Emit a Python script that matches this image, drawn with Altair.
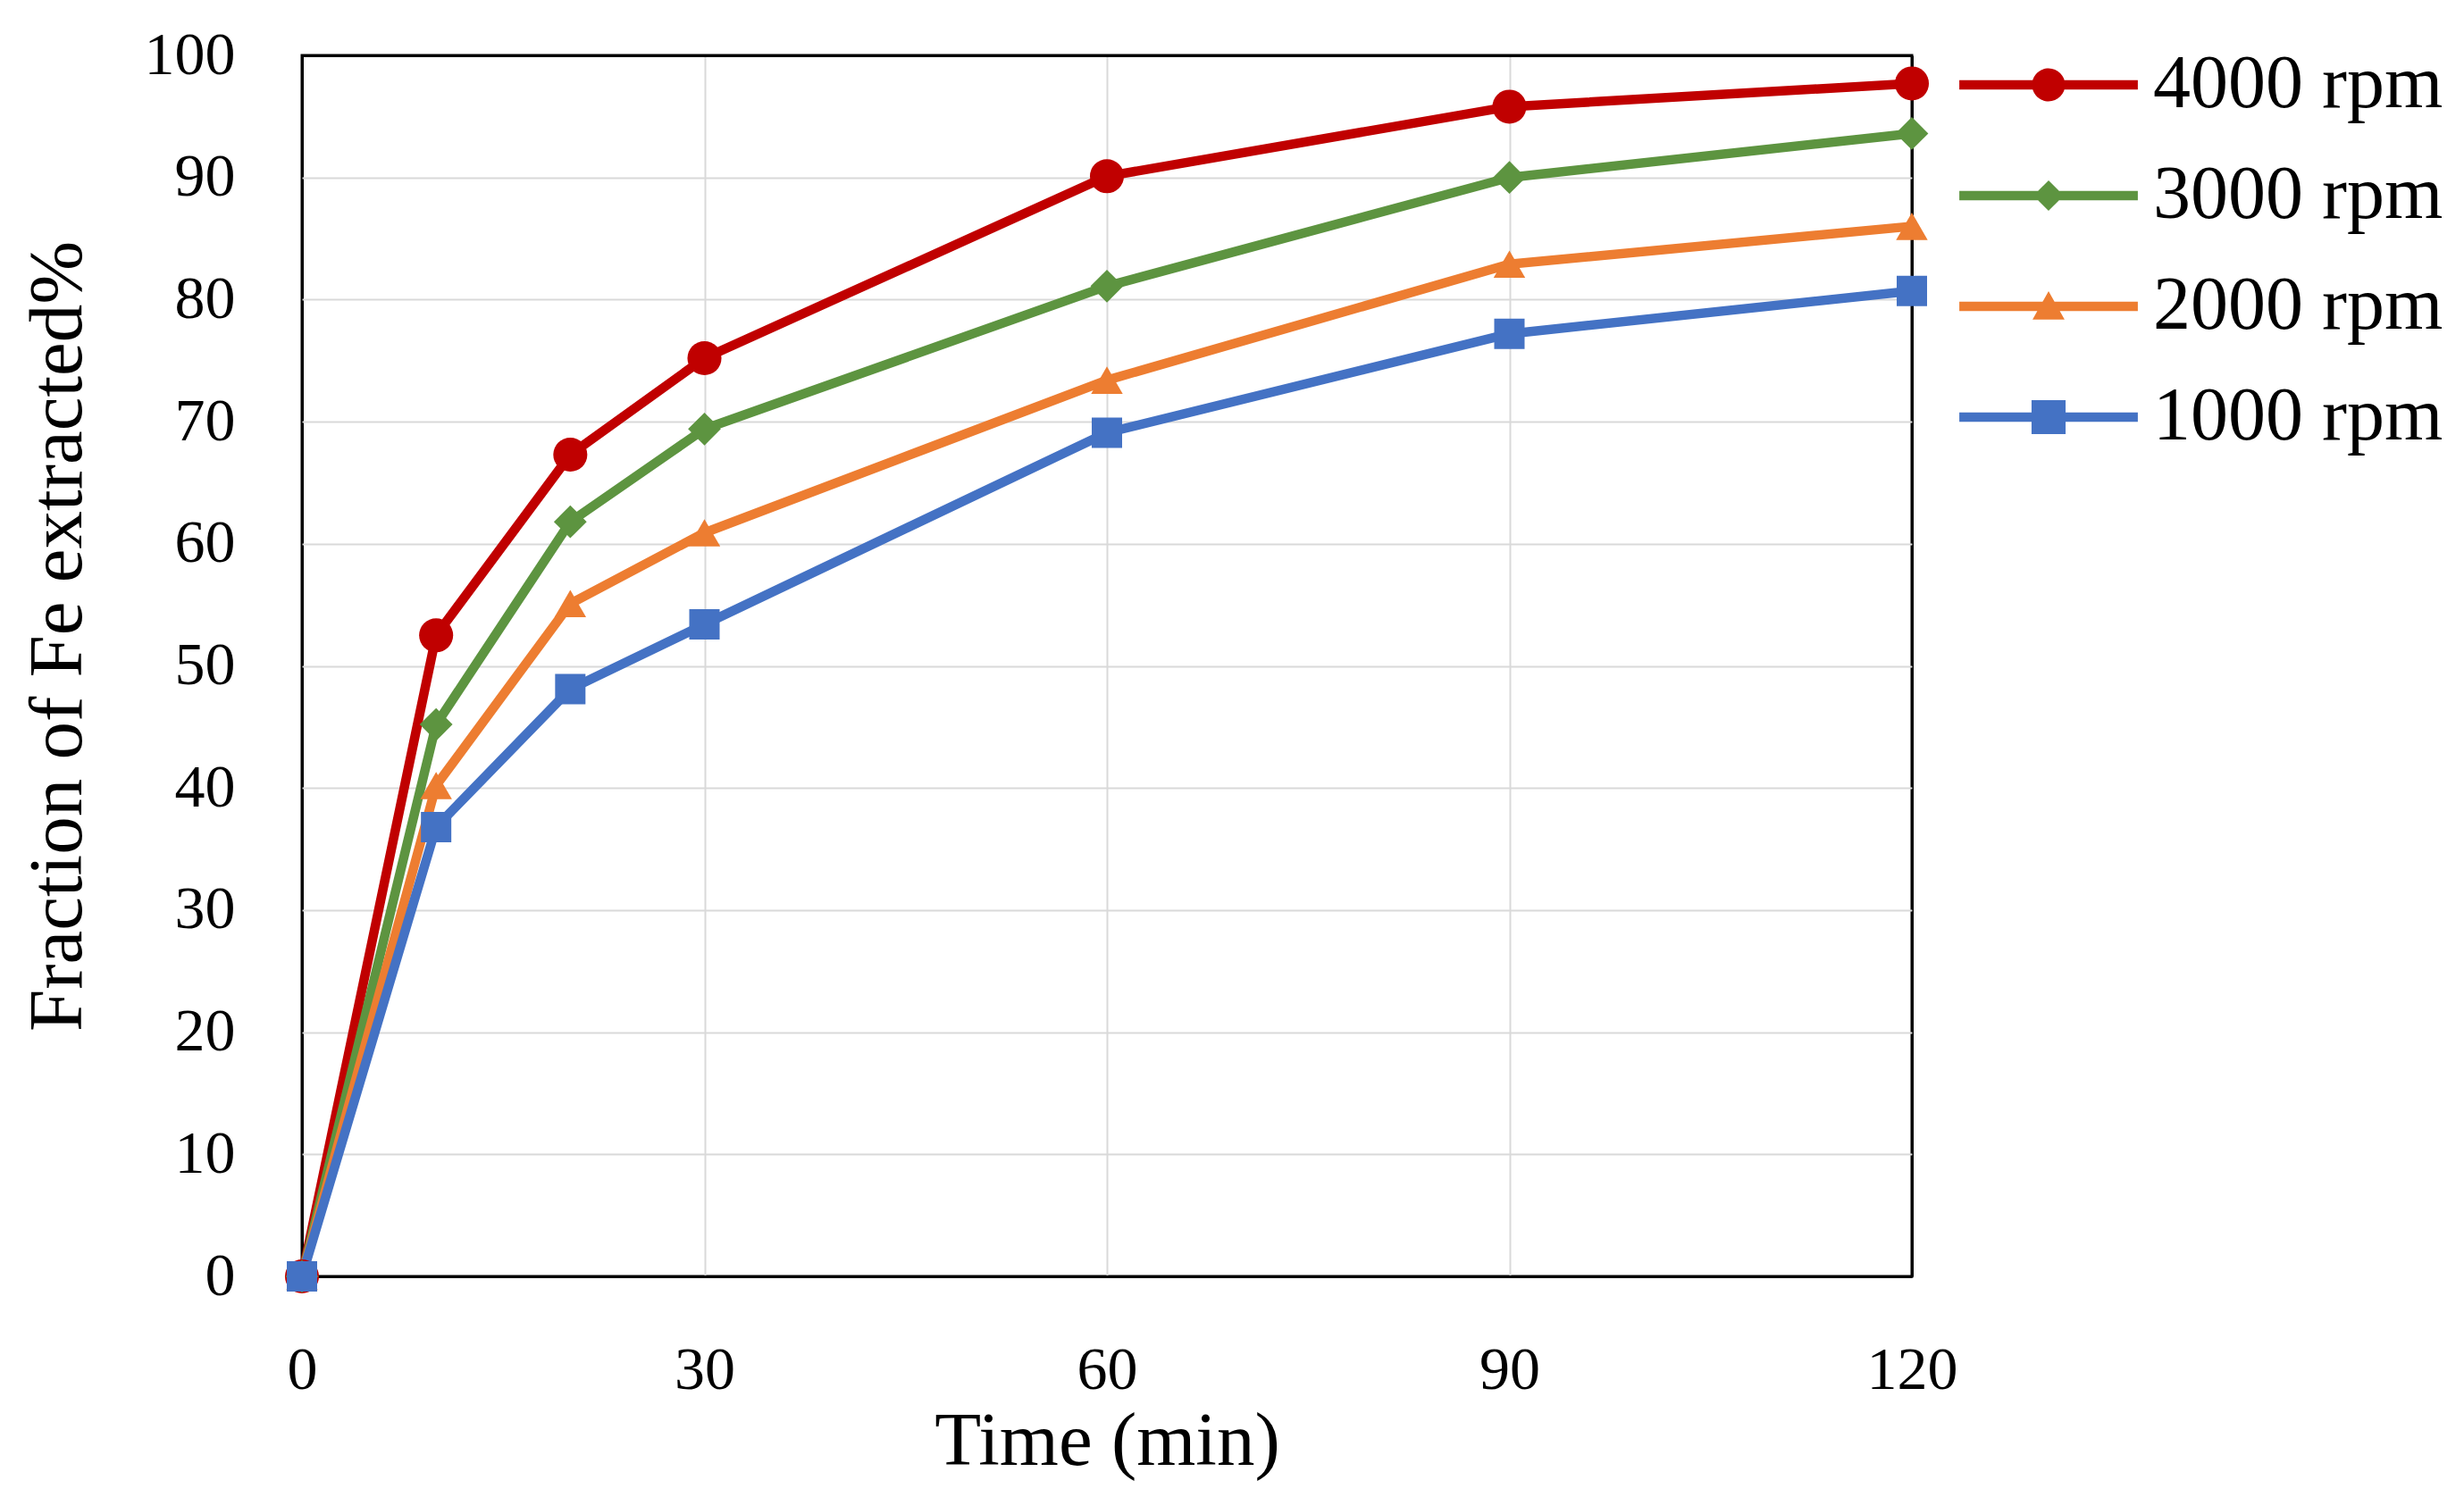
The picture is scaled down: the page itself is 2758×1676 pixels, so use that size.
import altair as alt
import pandas as pd

times = [0, 10, 20, 30, 60, 90, 120]
speeds = ["4000 rpm", "3000 rpm", "2000 rpm", "1000 rpm"]
fe_4000 = [0, 52.5, 67.3, 75.2, 90.1, 95.8, 97.7]
fe_3000 = [0, 45.2, 61.8, 69.4, 81.1, 90.0, 93.6]
fe_2000 = [0, 40.2, 55.1, 60.9, 73.4, 82.9, 86.0]
fe_1000 = [0, 36.8, 48.1, 53.4, 69.1, 77.2, 80.7]
colors = ["#C00000", "#5D9440", "#ED7D31", "#4472C4"]
shapes = ["circle", "diamond", "triangle-up", "square"]
sizes = [1450, 1156, 1350, 1520]
x_ticks = [0, 30, 60, 90, 120]
y_ticks = list(range(0, 101, 10))

series = [fe_4000, fe_3000, fe_2000, fe_1000]
rows = []
for s, vals in zip(speeds, series):
    for t, v in zip(times, vals):
        rows.append({"time": t, "fe": v, "speed": s})
df = pd.DataFrame(rows)

bar = "M-5.4,-0.28L5.4,-0.28L5.4,0.28L-5.4,0.28Z"
legend_paths = [
    bar + "M-1,0A1,1,0,1,1,1,0A1,1,0,1,1,-1,0Z",
    bar + "M-0.92,0L0,-0.92L0.92,0L0,0.92Z",
    bar + "M0,-0.92L0.97,0.8L-0.97,0.8Z",
    bar + "M-1.03,-1.03L1.03,-1.03L1.03,1.03L-1.03,1.03Z",
]

FONT = "Liberation Serif"
W, H = 1802, 1367


def edge_color(lo, hi):
    return {"condition": {"test": f"datum.value == {lo} || datum.value == {hi}", "value": "black"},
            "value": "#d9d9d9"}


def edge_width(lo, hi):
    return {"condition": {"test": f"datum.value == {lo} || datum.value == {hi}", "value": 3},
            "value": 2}


x_enc = alt.X(
    "time:Q",
    scale=alt.Scale(domain=[0, 120], nice=False, zero=False),
    axis=alt.Axis(
        values=x_ticks, title="Time (min)", grid=True, gridColor=edge_color(0, 120),
        gridWidth=edge_width(0, 120),
        domain=False, ticks=False, tickSize=0, labelFont=FONT, labelFontSize=68,
        labelColor="black", labelBaseline="alphabetic", labelPadding=125,
        labelFlush=False, labelOverlap=False,
        titleFont=FONT, titleFontSize=85, titleFontWeight="normal", titleColor="black",
        titleX=W / 2, titleY=210, titleAlign="center", titleBaseline="alphabetic",
    ),
)
y_enc = alt.Y(
    "fe:Q",
    scale=alt.Scale(domain=[0, 100], nice=False),
    axis=alt.Axis(
        values=y_ticks, title="Fraction of Fe extracted%", grid=True,
        gridColor=edge_color(0, 100), gridWidth=edge_width(0, 100),
        domain=False, ticks=False, tickSize=0, labelFont=FONT,
        labelFontSize=68, labelColor="black", labelAlign="right", labelBaseline="middle",
        labelPadding=75, labelFlush=False, labelOverlap=False,
        titleFont=FONT, titleFontSize=85, titleFontWeight="normal", titleColor="black",
        titleAngle=270, titleX=-274, titleY=650, titleAlign="center", titleBaseline="middle",
    ),
)

base = alt.Chart(df)

lines = base.mark_line(strokeWidth=10.5, strokeCap="round", strokeJoin="round", clip=False).encode(
    x=x_enc, y=y_enc,
    color=alt.Color("speed:N", scale=alt.Scale(domain=speeds, range=colors), legend=None),
)

points = base.mark_point(filled=True, opacity=1, clip=False).encode(
    x=x_enc, y=y_enc,
    color=alt.Color("speed:N", scale=alt.Scale(domain=speeds, range=colors), legend=None),
    shape=alt.Shape("speed:N", scale=alt.Scale(domain=speeds, range=shapes), legend=None),
    size=alt.Size("speed:N", scale=alt.Scale(domain=speeds, range=sizes), legend=None),
)

leg = alt.Legend(
    title=None, orient="none", legendX=1913, legendY=-9, padding=0,
    symbolSize=1369, symbolStrokeWidth=0, symbolOpacity=1,
    labelFont=FONT, labelFontSize=84, labelColor="black", labelOffset=75,
    labelLimit=0, rowPadding=40,
)
legend_layer = base.transform_filter("datum.fe < 0").mark_point(filled=True).encode(
    x=x_enc, y=y_enc,
    color=alt.Color("speed:N", scale=alt.Scale(domain=speeds, range=colors), legend=leg),
    shape=alt.Shape("speed:N", scale=alt.Scale(domain=speeds, range=legend_paths), legend=leg),
)

chart = (
    alt.layer(lines, points, legend_layer)
    .resolve_scale(color="independent", shape="independent")
    .properties(
        width=W, height=H,
        autosize=alt.AutoSizeParams(type="none"),
        padding={"left": 330, "top": 54, "right": 610, "bottom": 239},
        background="white",
    )
    .configure_view(stroke="black", strokeWidth=3)
)

chart.save("out.html", embed_options={"renderer": "svg", "actions": False})
